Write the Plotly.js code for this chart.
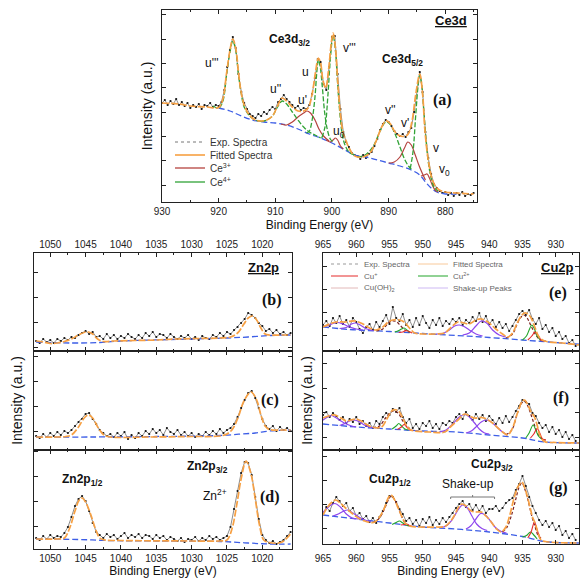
<!DOCTYPE html>
<html><head><meta charset="utf-8">
<script src="https://cdn.plot.ly/plotly-3.0.1.min.js"></script>
<style>html,body{margin:0;padding:0;background:#fff}#chart{width:581px;height:579px}</style>
</head><body><div id="chart"></div>
<script>
// ---------------- DATA ----------------
// Ce3d (panel a): binding energy grid and experimental intensity (a.u.)
const ceE = [930,929.5,929,928.5,928,927.5,927,926.5,926,925.5,925,924.5,924,923.5,923,922.5,922,921.5,921,920.5,
920,919.5,919,918.5,918,917.5,917,916.5,916,915.5,915,914.5,914,913.5,913,912.5,912,911.5,911,910.5,
910,909.5,909,908.5,908,907.5,907,906.5,906,905.5,905,904.5,904,903.5,903,902.5,902,901.5,901,900.5,
900,899.5,899,898.5,898,897.5,897,896.5,896,895.5,895,894.5,894,893.5,893,892.5,892,891.5,891,890.5,
890,889.5,889,888.5,888,887.5,887,886.5,886,885.5,885,884.5,884,883.5,883,882.5,882,881.5,881,880.5,
880,879.5,879,878.5,878,877.5,877,876.5,876,875.5,875];
const ceExp = [99,102,97,101,98,103,97,100,96,99, 94,97,95,98,93,97,96,99,95,97,
96,100,112,135,152,165,154,128,110,99, 93,88,86,84,88,86,90,88,92,95,
93,100,103,107,103,100,97,94,96,92, 94,93,97,108,124,143,140,118,112,135,
165,166,128,93,70,60,55,49,47,46, 43,47,44,48,50,56,63,72,78,82,
80,76,71,68,66,68,65,70,74,90, 112,130,110,70,44,28,18,14,11,9,
10,7,9,6,9,7,10,6,8,7, 9];
const ceFit = [[930,99],[927,98],[925,96],[922,95],[920,94.5],[919.3,102],[918.6,129],[918,152],[917.5,163],[917,154],[916.5,130],[916.1,112],[915.5,97],[914.6,87],[913.5,82],[912.5,81],[911.5,82],[910.5,86],[909.6,96],[908.8,104],[908,101],[907,95],[906,91],[905,91],[904.2,94],[903.5,108],[902.9,130],[902.4,144],[902,139],[901.6,122],[901.1,114],[900.6,132],[900.1,160],[899.8,169],[899.4,155],[899,122],[898.6,93],[898.1,71],[897.5,61],[897,54],[896.2,47],[895.5,45],[894.5,45],[893.3,49],[892.2,61],[891.3,74],[890.5,81],[889.8,79],[889.1,72],[888.3,67],[887.4,65.5],[886.6,67.5],[885.9,80],[885.2,108],[884.5,128],[884,108],[883.6,72],[883,42],[882.2,21],[881.3,13],[880,10],[878,9],[875,8]];
const ceBg = [[920,94],[918,91],[916,86],[914,82],[912,80],[910,79],[908,77],[906,73],[904,68],[902,64],[900,59],[898,53],[896,47],[894,45],[892,42],[890,39],[888,36],[886,32],[884.5,27],[883.5,20],[882.5,14],[881.5,10],[880,8],[878,8]];
const ce4Peaks = [
 [[921,96],[920,94],[919.3,100],[918.6,127],[918,150],[917.5,161],[917,152],[916.5,127],[916,108],[915.5,95],[914.5,86],[913.5,82],[912.5,80.5]],
 [[912.5,80.5],[911.5,82],[910.5,86],[909.6,95],[908.8,101],[908,98],[907,90],[906,82],[905,75],[904,70],[903,67],[902,64]],
 [[904.5,69],[904,71],[903.5,82],[903,105],[902.7,128],[902.4,142],[902.1,136],[901.7,115],[901.3,90],[900.8,72],[900.3,63],[899.8,60]],
 [[901.8,64],[901.2,76],[900.7,108],[900.3,142],[899.8,167],[899.4,152],[899,118],[898.6,88],[898.2,68],[897.7,57],[897,50],[896,47]],
 [[895.5,45],[894.5,46],[893.5,50],[892.5,58],[891.5,71],[890.5,80],[889.8,78],[889,70],[888,55],[887.2,43],[886.5,36],[886,33]],
 [[886.2,33],[885.7,50],[885.2,88],[884.8,116],[884.5,127],[884.2,119],[883.8,92],[883.4,62],[883,40],[882.5,24],[882,15],[881.3,11]]
];
const ce3Peaks = [
 [[909,78],[908,77],[907,80],[906,85],[905,89],[904.4,91],[903.8,89],[903,82],[902.3,73],[901.5,66],[900.5,61]],
 [[901,62],[900.3,60],[899.8,62],[899.4,64],[899,62],[898.5,56],[898,53]],
 [[890,39],[889,40],[888,45],[887.2,54],[886.6,60],[886,57],[885.3,47],[884.6,36],[884,28],[883.5,22]],
 [[884.3,26],[883.7,27],[883.2,28],[882.8,24],[882.3,17],[881.8,12],[881.3,10]]
];

// Zn2p (panels b, c, d)
const znE = [1052,1051.5,1051,1050.5,1050,1049.5,1049,1048.5,1048,1047.5,
1047,1046.5,1046,1045.5,1045,1044.5,1044,1043.5,1043,1042.5,
1042,1041.5,1041,1040.5,1040,1039.5,1039,1038.5,1038,1037.5,
1037,1036.5,1036,1035.5,1035,1034.5,1034,1033.5,1033,1032.5,
1032,1031.5,1031,1030.5,1030,1029.5,1029,1028.5,1028,1027.5,
1027,1026.5,1026,1025.5,1025,1024.5,1024,1023.5,1023,1022.5,
1022,1021.5,1021,1020.5,1020,1019.5,1019,1018.5,1018,1017.5,
1017,1016.5,1016];
const znExpB = [10,8,12,9,11,8,12,10,13,11, 14,13,16,18,20,17,19,14,15,12, 17,13,16,12,15,13,17,14,12,16,
13,18,15,19,14,17,16,13,17,14, 12,15,13,16,12,14,11,15,13,12, 16,14,18,15,19,17,21,24,28,32,
38,36,33,28,25,20,22,18,21,17, 19,16,18];
const znExpC = [14,12,16,13,17,14,18,15,19,17, 20,24,28,31,36,37,31,26,20,17, 14,16,13,17,14,18,11,15,12,17,
14,19,16,21,17,20,15,22,18,16, 20,15,18,14,17,13,16,14,18,15, 19,16,21,17,20,22,26,33,42,50,
57,59,52,42,31,24,21,24,19,23, 20,22,19];
const znExpD = [11,9,13,10,14,11,13,12,16,22, 32,43,50,53,48,38,26,17,14,11, 15,12,14,10,13,16,11,14,12,15,
11,14,13,10,14,11,13,9,12,10, 8,11,7,10,9,12,8,11,9,13, 10,12,9,11,13,22,40,58,76,87,
86,74,52,30,14,9,6,8,5,7, 9,13,17];
const znFitB = [[1052,10],[1051,9],[1050,7.5],[1049,8],[1048,9.5],[1047,12],[1046,16],[1045,19],[1044.6,19],[1044,17],[1043.3,12],[1042.5,9.5],[1041,10],[1038,10.5],[1035,11],[1032,12],[1029,12.5],[1026,13],[1024.5,14],[1023.5,18],[1022.6,27],[1022,33],[1021.4,35],[1020.8,31],[1020.2,23],[1019.6,17],[1019,16],[1017,16],[1016,16]];
const znBgB = [[1052,9],[1047,8],[1043,8.5],[1040,10],[1030,12],[1025,13],[1022,14],[1019,15.5],[1016,16]];
const znFitC = [[1052,13],[1049,13],[1047.8,13.5],[1047,15],[1046,23],[1045.2,32],[1044.6,35],[1044,32],[1043.2,22],[1042.4,15],[1041.5,13],[1036,13],[1030,13.5],[1026,14],[1025,16],[1024.2,21],[1023.4,33],[1022.6,49],[1021.6,58],[1020.8,50],[1020.2,35],[1019.6,24],[1019,20.5],[1017,20],[1016,20]];
const znBgC = [[1052,13],[1044,13],[1035,13.5],[1026,14.5],[1023,16],[1021,17],[1019,19],[1016,20]];
const znFitD = [[1052,10],[1049,10],[1048,11],[1047.3,20],[1046.5,38],[1045.9,49],[1045.5,51],[1045,47],[1044.3,35],[1043.6,20],[1043,11],[1042.3,9],[1040,8.5],[1030,8],[1026,8],[1025,9],[1024.3,20],[1023.6,45],[1023,70],[1022.3,88],[1021.6,75],[1021,50],[1020.4,24],[1019.8,9],[1019,6.5],[1018,5.8],[1017.2,7],[1016.5,11],[1016,15]];
const znBgD = [[1052,10],[1046,9.5],[1042,8.5],[1035,8],[1026,7.5],[1022,6],[1019,5],[1016,5]];

// Cu2p (panels e, f, g)
const cuE = [965,964.5,964,963.5,963,962.5,962,961.5,961,960.5,
960,959.5,959,958.5,958,957.5,957,956.5,956,955.5,
955,954.5,954,953.5,953,952.5,952,951.5,951,950.5,
950,949.5,949,948.5,948,947.5,947,946.5,946,945.5,
945,944.5,944,943.5,943,942.5,942,941.5,941,940.5,
940,939.5,939,938.5,938,937.5,937,936.5,936,935.5,
935,934.5,934,933.5,933,932.5,932,931.5,931,930.5,
930,929.5,929,928.5,928,927.5,927];
const cuExpE = [26,30,25,33,28,35,27,31,24,33, 29,22,18,24,27,21,29,24,30,36, 27,44,33,30,37,26,31,24,33,26,
35,28,23,31,26,33,25,30,27,32, 29,33,26,31,28,34,30,38,29,35, 27,31,24,29,23,27,20,25,31,37,
40,36,41,32,27,33,22,26,19,23, 15,19,12,15,8,11,5];
const cuExpF = [35,38,33,37,34,30,33,27,31,28, 33,26,29,24,27,22,29,26,33,37, 35,41,38,42,33,27,31,22,26,21,
27,24,29,22,26,21,27,25,29,27, 33,36,31,38,34,30,36,31,35,29, 34,30,26,32,27,34,28,33,39,44,
50,48,46,37,34,27,22,25,18,23, 16,20,13,18,11,15,9];
const cuExpG = [30,37,33,41,47,43,38,41,33,36, 28,31,25,28,22,26,21,27,33,41, 48,47,42,35,30,23,26,20,24,18,
25,21,27,19,24,20,26,22,27,31, 36,40,43,37,40,34,39,33,38,31, 35,35,38,33,36,41,44,46,54,60,
68,58,47,38,31,24,19,23,17,21, 14,18,9,13,6,10,4];

const cuFitE = [[965,24],[964,27],[963,29],[961.7,29],[960.2,30],[959,27],[958,23],[957,21],[956,24],[955.2,29],[954.5,31],[953.5,31],[952.8,29],[952,23],[951.2,18],[950,17],[948,17],[946.7,18],[945.7,24],[944.7,29],[943.8,28],[943,27],[942,31],[941.2,32],[940.2,29],[939,22],[938,17],[937.2,14],[936.5,18],[935.8,28],[935.2,35],[934.7,38],[934.2,37],[933.7,33],[933.2,25],[932.6,15],[932,11],[931,9],[929,8],[927,6.5],[926.5,6]];
const cuBgE = [[965,24],[960,21],[955,19.5],[950,17.5],[945,15.5],[940,13.5],[935,11],[931,9],[927,7],[926.5,6.8]];
const cuShE = [
 [[965.5,24.5],[964.5,25],[963.5,27.5],[962.8,28.5],[962,27],[961,24],[960,22],[959,21]],
 [[962.5,22.5],[961.5,23.5],[960.7,27],[960.1,28],[959.4,26],[958.4,22],[957.4,20.5]],
 [[948,17],[947,17.5],[946,21],[945.2,25],[944.5,26],[943.8,24.5],[943,21],[942,17],[941,15]],
 [[944,16],[943,18],[942,25],[941.2,30],[940.4,28],[939.5,21],[938.5,16],[937.5,14]]];
const cuOhE = [
 [[957,20],[956,22],[955.3,27],[954.7,30],[954,29.5],[953.3,25],[952.6,20.5],[952,19]],
 [[937.5,13],[936.5,17],[935.8,27],[935.2,34],[934.8,36],[934.3,33],[933.7,25],[933,16],[932.3,11],[931.5,10]]];
const cu2E = [
 [[954.2,19],[953.6,20.5],[953.2,22],[952.8,23],[952.4,21],[951.9,18.5]],
 [[935,11],[934.4,15],[934,21],[933.6,26],[933.2,22],[932.8,15],[932.3,11]]];
const cu1E = [
 [[953.6,18.5],[953,19],[952.5,20.5],[952.1,19.5],[951.6,18]],
 [[934.2,11],[933.6,15],[933.1,19],[932.7,16],[932.2,11],[931.7,10]]];

const cuFitF = [[965,32],[964.2,34],[963.2,35],[962.3,32],[961.5,29],[960.8,30],[960,31],[959,28],[957.7,23],[956.2,23],[955.4,31],[954.5,40],[953.9,40],[953.5,38],[953,32],[952.5,25],[951.8,20],[951.2,19],[949,18],[946.7,18],[945.7,24],[944.7,30],[943.7,36],[943,34],[942.2,32],[941.2,32.5],[940.4,31],[939.5,27],[938.7,22],[937.8,17],[937.2,15],[936.5,22],[935.7,38],[935.1,48],[934.7,50],[934.2,45],[933.7,38],[933.2,33],[932.8,25],[932.4,15],[931.7,8.5],[930,7.5],[926.5,7]];
const cuBgF = [[965,26],[960,23],[955,21],[950,19],[945,18],[940,15],[935,12],[931.7,8],[926.5,7]];
const cuShF = [
 [[965.5,27],[965,30],[964.3,33],[963.8,34.5],[963.1,32.5],[962.3,29],[961.5,26],[960.7,24],[960,23]],
 [[962.5,24.5],[961.7,26.5],[961,29],[960.3,30],[959.6,28.5],[958.8,25],[958,23],[957,22]],
 [[947.5,18],[946.5,20],[945.5,26],[944.5,33],[943.7,35.5],[943,33],[942.2,27],[941.5,21],[940.7,17],[940,16]],
 [[943.5,17],[942.7,19],[942,23],[941.2,28],[940.5,30],[939.7,28],[939,24],[938.2,19],[937.4,15.5]]];
const cuOhF = [
 [[957.5,22.5],[956.5,24],[955.6,32],[954.8,38],[954.2,39],[953.6,36],[953,29],[952.3,23],[951.6,20.5]],
 [[937.5,15],[936.6,20],[935.8,36],[935.1,47],[934.7,49],[934.2,44],[933.7,35],[933.2,25],[932.6,15],[932,11],[931.5,10]]];
const cu2F = [
 [[954.6,21],[954,24],[953.6,26.5],[953.2,24],[952.7,21],[952.2,20]],
 [[934.5,12],[934,17],[933.4,25],[933,20],[932.6,14],[932.1,11]]];
const cu1F = [
 [[953.8,20.5],[953.2,23],[952.8,25.5],[952.4,23],[951.9,20],[951.4,19.5]],
 [[933.8,12],[933.3,16],[932.8,21.5],[932.4,17],[932,11],[931.5,10]]];

const cuFitG = [[965,29],[964.5,35],[963.8,41],[963.1,44],[962.4,41],[961.6,36],[960.7,31],[959.7,26],[958.7,23],[957.9,21.5],[957.2,22],[956.4,28],[955.7,37],[955.2,46],[954.8,49],[954.3,45],[953.7,36],[953.1,27],[952.5,20],[951.7,17.5],[950.7,17],[948,17],[946.7,17.5],[945.9,22],[945.2,29],[944.6,37],[944.1,40],[943.5,38],[942.7,33],[941.9,32],[941.2,32],[940.5,28],[939.7,22],[938.9,15],[938.2,12],[937.5,17],[936.9,29],[936.3,45],[935.7,57],[935.1,62],[934.6,55],[934.2,46],[933.8,35],[933.5,27],[933.1,21],[932.7,12],[932.2,4],[931,2],[926.5,1]];
const cuBgG = [[965,29],[960,25],[955,21],[950,17],[945,15],[940,12],[935,7.5],[932.2,3],[930,1.5],[926.5,1]];
const cuShG = [
 [[965.5,29],[964.8,33],[964,38],[963.2,40.5],[962.4,37],[961.5,30],[960.6,26],[959.7,25]],
 [[963.5,28],[962.7,30],[962,32.5],[961.3,34],[960.5,31],[959.6,27],[958.7,24],[957.8,22.5]],
 [[947.5,16.5],[946.5,18],[945.5,25],[944.7,34],[944,39],[943.3,36],[942.6,28],[941.9,20],[941.1,15.5],[940.3,13.5]],
 [[943.5,15],[942.8,18],[942,25],[941.3,30.5],[940.6,29],[939.8,23],[939,16],[938.2,12.5],[937.4,11]]];
const cuOhG = [
 [[957.5,21.5],[956.5,26],[955.7,36],[955.1,45],[954.7,48],[954.2,44],[953.6,35],[953,25],[952.4,19],[951.6,17.5]],
 [[938,12],[937.3,17],[936.6,30],[936,45],[935.5,57],[935.1,61],[934.6,54],[934.1,42],[933.6,28],[933.1,17],[932.6,8],[932,5]]];
const cu2G = [
 [[954.6,19.5],[954,21.5],[953.5,23],[953,21],[952.5,19],[952,18]],
 [[935,7],[934.4,8.5],[933.8,12],[933.3,9],[932.8,5]]];
const cu1G = [
 [[953.3,19],[952.8,19.5],[952.4,20],[952,18.5],[951.5,17.5]],
 [[934.2,6],[933.7,12],[933.2,22],[932.8,14],[932.3,5]]];

// Tick labels
const ceTicks = [930,920,910,900,890,880];
const znTicks = [1050,1045,1040,1035,1030,1025,1020];
const cuTicks = [965,960,955,950,945,940,935,930];

// Legend entries
const ceLegend = ['Exp. Spectra', 'Fitted Spectra', 'Ce<sup>3+</sup>', 'Ce<sup>4+</sup>'];
const cuLegendCol1 = ['Exp. Spectra', 'Cu<sup>+</sup>', 'Cu(OH)<sub>2</sub>'];
const cuLegendCol2 = ['Fitted Spectra', 'Cu<sup>2+</sup>', 'Shake-up Peaks'];

// ---------------- HELPERS ----------------
const FONT = 'Liberation Sans, Arial, sans-serif';
const SERIF = 'Liberation Serif, Times New Roman, serif';
const W = 581, HT = 579;
const px = v => v / W, py = v => 1 - v / HT;
const clone = o => JSON.parse(JSON.stringify(o));

const COL = {exp:'#777', fit:'#f7a043', bg:'#3d5ee6', ce3:'#b5433f', ce4:'#31a336',
  cu1:'#e52a2a', cu2:'#22a52a', oh:'#7a2222', sh:'#8e46ee'};
const STY = {
  exp: {mode:'lines+markers', line:{color:'#6e6e6e', width:0.8}, marker:{size:2.2, color:'#111'}},
  fit: {mode:'lines', line:{color:COL.fit, width:1.7, dash:'7px,2px', shape:'spline'}},
  bg:  {mode:'lines', line:{color:COL.bg, width:1.3, dash:'6px,3px', shape:'spline'}},
  ce3: {mode:'lines', line:{color:COL.ce3, width:1.2, shape:'spline'}},
  ce4: {mode:'lines', line:{color:COL.ce4, width:1.3, dash:'5px,2px', shape:'spline'}},
  cu1: {mode:'lines', line:{color:COL.cu1, width:1.1, shape:'spline'}},
  cu2: {mode:'lines', line:{color:COL.cu2, width:1.1, shape:'spline'}},
  oh:  {mode:'lines', line:{color:COL.oh, width:1.2, dash:'3px,2px', shape:'spline'}},
  sh:  {mode:'lines', line:{color:COL.sh, width:1.2, shape:'spline'}}
};
function axId(n, l) { return l + (n > 1 ? n : ''); }
function tr(x, y, n, sty, name) {
  return Object.assign({type:'scatter', x:x, y:y, xaxis:axId(n,'x'), yaxis:axId(n,'y'),
    hoverinfo:'skip', showlegend:false, name:name || sty}, clone(STY[sty]));
}
function ptr(pairs, n, sty, name) {
  return tr(pairs.map(p => p[0]), pairs.map(p => p[1]), n, sty, name);
}

// ---------------- TRACES ----------------
const traces = [];
traces.push(tr(ceE, ceExp, 1, 'exp', 'Exp. Spectra'));
traces.push(ptr(ceBg, 1, 'bg', 'Background'));
ce3Peaks.forEach(p => traces.push(ptr(p, 1, 'ce3', 'Ce3+')));
ce4Peaks.forEach(p => traces.push(ptr(p, 1, 'ce4', 'Ce4+')));
traces.push(ptr(ceFit, 1, 'fit', 'Fitted Spectra'));

[[znExpB, znBgB, znFitB], [znExpC, znBgC, znFitC], [znExpD, znBgD, znFitD]].forEach((s, k) => {
  const n = k + 2;
  traces.push(tr(znE, s[0], n, 'exp', 'Exp. Spectra'));
  traces.push(ptr(s[1], n, 'bg', 'Background'));
  traces.push(ptr(s[2], n, 'fit', 'Fitted Spectra'));
});

const cuSets = [
  [cuExpE, cuBgE, cuShE, cuOhE, cu2E, cu1E, cuFitE],
  [cuExpF, cuBgF, cuShF, cuOhF, cu2F, cu1F, cuFitF],
  [cuExpG, cuBgG, cuShG, cuOhG, cu2G, cu1G, cuFitG]];
cuSets.forEach((s, k) => {
  const n = k + 5;
  traces.push(tr(cuE, s[0], n, 'exp', 'Exp. Spectra'));
  traces.push(ptr(s[1], n, 'bg', 'Background'));
  s[2].forEach(p => traces.push(ptr(p, n, 'sh', 'Shake-up Peaks')));
  s[3].forEach(p => traces.push(ptr(p, n, 'oh', 'Cu(OH)2')));
  s[4].forEach(p => traces.push(ptr(p, n, 'cu2', 'Cu2+')));
  s[5].forEach(p => traces.push(ptr(p, n, 'cu1', 'Cu+')));
  traces.push(ptr(s[6], n, 'fit', 'Fitted Spectra'));
});

// ---------------- LAYOUT ----------------
const base = {showline:true, linecolor:'#222', linewidth:1, mirror:'allticks', ticks:'inside', ticklen:4,
  tickwidth:1, tickcolor:'#222', showgrid:false, zeroline:false, fixedrange:true,
  tickfont:{family:FONT, size:10, color:'#222'}};
function xax(range, dom, anchor, tickv, minorD, extra) {
  return Object.assign(clone(base), {range:range, domain:dom, anchor:anchor, tickmode:'array', tickvals:tickv,
    ticktext:tickv.map(String), minor:{ticks:'inside', ticklen:2, dtick:minorD, tick0:0, tickcolor:'#222', showgrid:false}}, extra || {});
}
function yax(top, dom, anchor, t0, dt, extra) {
  return Object.assign(clone(base), {range:[0, top], domain:dom, anchor:anchor, showticklabels:false,
    tick0:t0, dtick:dt}, extra || {});
}
const xTitle = (t, s) => ({text:t, font:{family:FONT, size:12, color:'#111'}, standoff:s});
const yTitle = (t, s) => ({text:t, font:{family:FONT, size:14, color:'#111'}, standoff:s});

const colL = [px(34), px(292)], colR = [px(323), px(579)];
const rowB = [py(351), py(253)], rowC = [py(450), py(351)], rowD = [py(549), py(450)];
const rowG = [py(544), py(450)];

const layout = {
  width:W, height:HT, margin:{l:0, r:0, t:0, b:0}, paper_bgcolor:'#fff', plot_bgcolor:'#fff',
  font:{family:FONT, color:'#111'}, showlegend:false,
  xaxis: xax([930, 874.4], [px(162), px(477)], 'y', ceTicks, 5, {title:xTitle('Binding Energy (eV)', 4)}),
  yaxis: yax(192, [py(202), py(10)], 'x', 17, 24.3, {title:yTitle('Intensity (a.u.)', 5)}),
  xaxis2: xax([1052.3, 1015.8], colL, 'y2', znTicks, 2.5, {side:'top'}),
  yaxis2: yax(98, rowB, 'x2', 4, 25),
  xaxis3: xax([1052.3, 1015.8], colL, 'y3', znTicks, 2.5, {showticklabels:false}),
  yaxis3: yax(99, rowC, 'x3', 18.3, 25, {title:yTitle('Intensity (a.u.)', 7)}),
  xaxis4: xax([1052.3, 1015.8], colL, 'y4', znTicks, 2.5, {title:xTitle('Binding Energy (eV)', 2)}),
  yaxis4: yax(99, rowD, 'x4', 22.3, 25),
  xaxis5: xax([965, 926.5], colR, 'y5', cuTicks, 2.5, {side:'top'}),
  yaxis5: yax(98, rowB, 'x5', 16, 23),
  xaxis6: xax([965, 926.5], colR, 'y6', cuTicks, 2.5, {showticklabels:false}),
  yaxis6: yax(99, rowC, 'x6', 13, 24.5, {title:yTitle('Intensity (a.u.)', 6)}),
  xaxis7: xax([965, 926.5], colR, 'y7', cuTicks, 2.5, {title:xTitle('Binding Energy (eV)', 2), ticklabelstandoff:5}),
  yaxis7: yax(94, rowG, 'x7', 16, 24),
  annotations: [],
  shapes: []
};

function ann(text, x, y, size, opts) {
  layout.annotations.push(Object.assign({text:text, xref:'paper', yref:'paper', x:px(x), y:py(y),
    xanchor:'center', yanchor:'middle', showarrow:false,
    font:{family:FONT, size:size, color:'#111'}}, opts || {}));
}
function bann(text, x, y, size) { ann(text, x, y, size, {font:{family:FONT, size:size, color:'#111', weight:'bold'}}); }
function lab(text, x, y) { ann(text, x, y, 16, {font:{family:SERIF, size:16, color:'#111', weight:'bold'}}); }
function legLine(x0, x1, y, color, width, dash) {
  layout.shapes.push({type:'line', xref:'paper', yref:'paper', x0:px(x0), x1:px(x1), y0:py(y), y1:py(y),
    line:{color:color, width:width, dash:dash || 'solid'}});
}
function legText(text, x, y, size, color) {
  ann(text, x, y, size, {xanchor:'left', font:{family:FONT, size:size, color:color}});
}

// panel a legend
const ceLegStyle = [[COL.exp,1,'dot'],[COL.fit,1.6,'solid'],[COL.ce3,1.3,'solid'],[COL.ce4,1.3,'solid']];
const ceLegY = [142, 155, 168, 182];
ceLegend.forEach((t, i) => {
  legLine(175, 205, ceLegY[i], ceLegStyle[i][0], ceLegStyle[i][1], ceLegStyle[i][2]);
  legText(t, 208, ceLegY[i], 10, '#333');
});
// panel e legend (two columns)
const cuLegY = [264, 276, 288];
const cuLegStyle1 = [['#999',1,'dot'],[COL.cu1,1,'solid'],['#e2b8b8',1,'solid']];
const cuLegStyle2 = [['#f8c99a',1,'solid'],[COL.cu2,1,'solid'],['#cdb8f3',1,'solid']];
cuLegendCol1.forEach((t, i) => {
  legLine(331, 358, cuLegY[i], cuLegStyle1[i][0], cuLegStyle1[i][1], cuLegStyle1[i][2]);
  legText(t, 362, cuLegY[i], 8, '#666');
});
cuLegendCol2.forEach((t, i) => {
  legLine(418, 448, cuLegY[i], cuLegStyle2[i][0], cuLegStyle2[i][1], cuLegStyle2[i][2]);
  legText(t, 451, cuLegY[i], 8, '#666');
});

// panel a labels
bann('<u>Ce3d</u>', 451, 20, 13);
lab('(a)', 443, 100);
bann('Ce3d<sub>3/2</sub>', 289, 40, 12);
bann('Ce3d<sub>5/2</sub>', 402, 60, 12);
ann("u'''", 212, 63, 12); ann("u''", 275, 89, 12); ann("u'", 302, 100, 12); ann('u', 305, 72, 12);
ann("v'''", 349, 48, 12); ann('u<sub>0</sub>', 339, 132, 12); ann("v''", 390, 110, 12);
ann("v'", 405, 123, 12); ann('v', 436, 148, 12); ann('v<sub>0</sub>', 444, 170, 12);
// Zn labels
bann('<u>Zn2p</u>', 263, 268, 13);
lab('(b)', 272, 300); lab('(c)', 270, 400); lab('(d)', 270, 497);
bann('Zn2p<sub>3/2</sub>', 207, 467, 12);
bann('Zn2p<sub>1/2</sub>', 82, 480, 12);
ann('Zn<sup>2+</sup>', 215, 495, 12);
// Cu labels
bann('<u>Cu2p</u>', 557, 268, 13);
lab('(e)', 558, 293); lab('(f)', 561, 398); lab('(g)', 558, 488);
bann('Cu2p<sub>1/2</sub>', 390, 480, 12);
bann('Cu2p<sub>3/2</sub>', 492, 465, 12);
ann('Shake-up', 468, 484, 12);
// shake-up bracket in panel g data coordinates
const brk = {type:'line', xref:'x7', yref:'y7', line:{color:'#777', width:1}};
layout.shapes.push(Object.assign({x0:945.8, x1:939.2, y0:47, y1:47}, clone(brk)));
layout.shapes.push(Object.assign({x0:945.8, x1:945.8, y0:47, y1:45}, clone(brk)));
layout.shapes.push(Object.assign({x0:939.2, x1:939.2, y0:47, y1:45}, clone(brk)));
layout.shapes.push(Object.assign({x0:942.5, x1:942.5, y0:47, y1:49}, clone(brk)));

Plotly.newPlot('chart', traces, layout, {staticPlot:true, displayModeBar:false});
</script></body></html>
